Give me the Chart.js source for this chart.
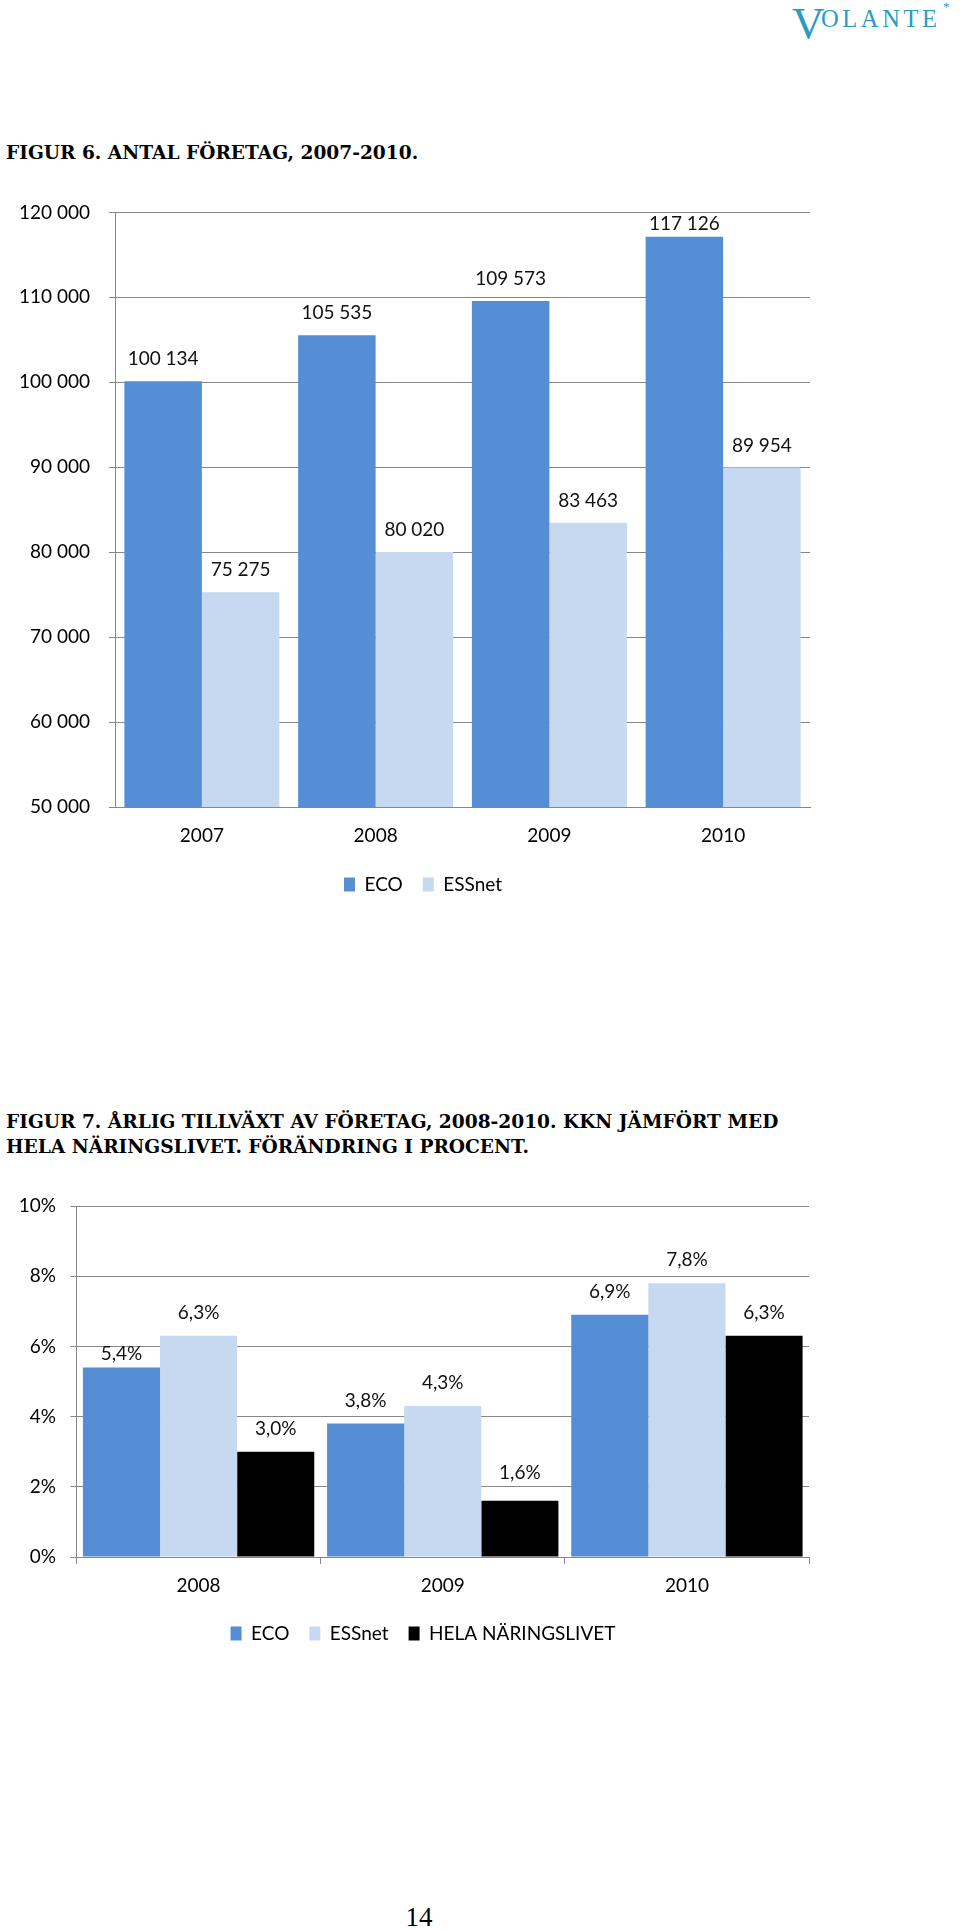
<!DOCTYPE html>
<html lang="sv">
<head>
<meta charset="utf-8">
<title>Figur 6 och 7</title>
<script src="https://cdn.jsdelivr.net/npm/chart.js@4.4.0/dist/chart.umd.min.js"></script>
<style>
  html, body { margin: 0; padding: 0; background: #fff; }
  body { width: 960px; height: 1929px; position: relative; overflow: hidden; }
  .logo { position: absolute; color: #2b9cbf; font-family: "Liberation Serif", serif; white-space: nowrap; }
  .logo-v { left: 792px; top: 1px; font-size: 45px; line-height: 45px; }
  .logo-rest { left: 821px; top: 7px; font-size: 24.5px; line-height: 24.5px; letter-spacing: 3.6px; }
  .logo-star { left: 943px; top: 0px; font-size: 13px; line-height: 13px; }
  .fig-title { position: absolute; left: 6px; margin: 0; font-family: "DejaVu Serif", serif; font-weight: bold;
               font-size: 18.6px; line-height: 24.5px; color: #000; white-space: nowrap; }
  #title1 { top: 141px; }
  #title2 { top: 1110px; }
  .chart-box { position: absolute; left: 0; }
  #box1 { top: 182px; }
  #box2 { top: 1180px; }
  .page-no { position: absolute; left: 390px; width: 58px; top: 1902px; text-align: center;
             font-family: "Liberation Serif", serif; font-size: 27px; line-height: 30px; color: #000; }
</style>
</head>
<body>

<div class="logo logo-v">V</div>
<div class="logo logo-rest">OLANTE</div>
<div class="logo logo-star">*</div>

<p class="fig-title" id="title1">FIGUR 6. ANTAL FÖRETAG, 2007-2010.</p>
<div class="chart-box" id="box1"><canvas id="chart1" width="846" height="722"></canvas></div>

<p class="fig-title" id="title2">FIGUR 7. ÅRLIG TILLVÄXT AV FÖRETAG, 2008-2010. KKN JÄMFÖRT MED<br>HELA NÄRINGSLIVET. FÖRÄNDRING I PROCENT.</p>
<div class="chart-box" id="box2"><canvas id="chart2" width="846" height="473"></canvas></div>

<div class="page-no">14</div>

<script>
// Figur 6: antal företag
const years1 = ['2007', '2008', '2009', '2010'];
const eco1 = [100134, 105535, 109573, 117126];
const essnet1 = [75275, 80020, 83463, 89954];
const yTicks1 = [50000, 60000, 70000, 80000, 90000, 100000, 110000, 120000];

// Figur 7: årlig tillväxt, procent
const years2 = ['2008', '2009', '2010'];
const eco2 = [5.4, 3.8, 6.9];
const essnet2 = [6.3, 4.3, 7.8];
const hela2 = [3.0, 1.6, 6.3];
const yTicks2 = [0, 2, 4, 6, 8, 10];

const BLUE = '#558ed5';
const LIGHT = '#c6d9f1';
const BLACK = '#000000';
const GRID = '#878787';
const FONT = 'Lato';

Chart.defaults.font.family = FONT;
Chart.defaults.font.size = 19;
Chart.defaults.color = '#000';

function spaced(v) {
    return String(v).replace(/\B(?=(\d{3})+(?!\d))/g, ' ');
}

function pct(v) {
    return v.toFixed(1).replace('.', ',') + '%';
}

// draws the value above each bar, kept inside the plot area like Excel does
function valueLabels(format, lift, extraLift) {
    return {
        id: 'valueLabels',
        afterDatasetsDraw(chart) {
            const ctx = chart.ctx;
            const minY = chart.chartArea.top + 11.5;
            ctx.save();
            ctx.font = '19px ' + FONT;
            ctx.fillStyle = '#111';
            ctx.textAlign = 'center';
            ctx.textBaseline = 'middle';
            chart.data.datasets.forEach((ds, i) => {
                chart.getDatasetMeta(i).data.forEach((bar, j) => {
                    const l = extraLift[i + '-' + j] || lift;
                    ctx.fillText(format(ds.data[j]), bar.x, Math.max(bar.y - l, minY));
                });
            });
            ctx.restore();
        }
    };
}

function legendOpts() {
    return {
        position: 'bottom',
        labels: { boxWidth: 11, boxHeight: 14, padding: 20, font: { size: 19 }, color: '#000' }
    };
}

// empty right-hand axis, only there to keep the legend centred like the original
function spacer(w) {
    return {
        position: 'right',
        grid: { display: false, drawTicks: false },
        border: { display: false },
        ticks: { display: false },
        afterFit: axis => { axis.width = w; }
    };
}

new Chart(document.getElementById('chart1'), {
    type: 'bar',
    data: {
        labels: years1,
        datasets: [
            { label: 'ECO', data: eco1, backgroundColor: BLUE, borderWidth: 0 },
            { label: 'ESSnet', data: essnet1, backgroundColor: LIGHT, borderWidth: 0 }
        ]
    },
    options: {
        responsive: false,
        animation: false,
        layout: { padding: { left: 0, right: 0, top: 22, bottom: 0 } },
        datasets: { bar: { categoryPercentage: 0.892, barPercentage: 1.0 } },
        plugins: { legend: legendOpts(), tooltip: { enabled: false } },
        scales: {
            x: {
                grid: { display: false, drawTicks: false },
                border: { display: true, color: GRID },
                ticks: { padding: 17 },
                afterFit: axis => { axis.height = 48; }
            },
            y: {
                min: 50000,
                max: 120000,
                afterBuildTicks: axis => { axis.ticks = yTicks1.map(v => ({ value: v })); },
                ticks: { padding: 19, callback: v => spaced(v) },
                grid: { color: GRID, lineWidth: 1, tickLength: 6 },
                border: { display: true, color: GRID },
                afterFit: axis => { axis.width = 115; }
            },
            pad: spacer(36)
        }
    },
    plugins: [valueLabels(spaced, 22, {})]
});

new Chart(document.getElementById('chart2'), {
    type: 'bar',
    data: {
        labels: years2,
        datasets: [
            { label: 'ECO', data: eco2, backgroundColor: BLUE, borderWidth: 0 },
            { label: 'ESSnet', data: essnet2, backgroundColor: LIGHT, borderWidth: 0 },
            { label: 'HELA NÄRINGSLIVET', data: hela2, backgroundColor: BLACK, borderWidth: 0 }
        ]
    },
    options: {
        responsive: false,
        animation: false,
        layout: { padding: { left: 0, right: 0, top: 26, bottom: 0 } },
        datasets: { bar: { categoryPercentage: 0.9475, barPercentage: 1.0 } },
        plugins: { legend: legendOpts(), tooltip: { enabled: false } },
        scales: {
            x: {
                grid: { display: true, drawOnChartArea: false, drawTicks: true, tickLength: 7, color: GRID },
                border: { display: true, color: GRID },
                ticks: { padding: 10.5 },
                afterFit: axis => { axis.height = 47; }
            },
            y: {
                min: 0,
                max: 10,
                afterBuildTicks: axis => { axis.ticks = yTicks2.map(v => ({ value: v })); },
                ticks: { padding: 14.5, callback: v => v + '%' },
                grid: { color: GRID, lineWidth: 1, tickLength: 6 },
                border: { display: true, color: GRID },
                afterFit: axis => { axis.width = 76.5; }
            },
            pad: spacer(37)
        }
    },
    plugins: [valueLabels(pct, 23, { '0-0': 14, '2-1': 28 })]
});
</script>
</body>
</html>
